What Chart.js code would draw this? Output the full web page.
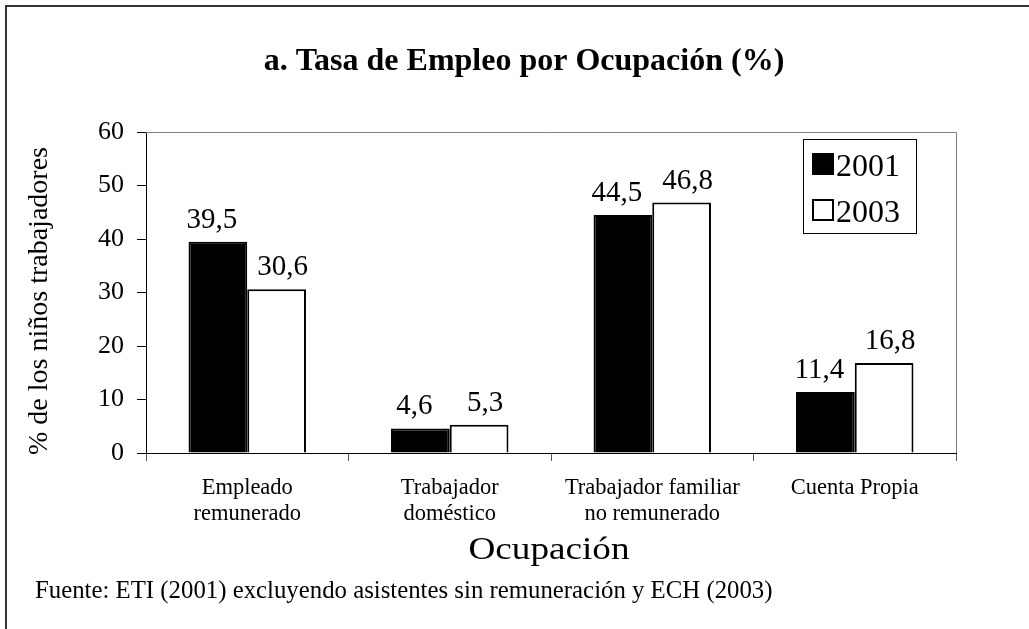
<!DOCTYPE html>
<html>
<head>
<meta charset="utf-8">
<style>
  html, body { margin: 0; padding: 0; background: #fff; }
  canvas { display: block; }
</style>
<script src="https://cdn.jsdelivr.net/npm/chart.js@4/dist/chart.umd.min.js"></script>
</head>
<body>
<canvas id="chart" width="1029" height="629"></canvas>
<script>
const categories = [
  ["Empleado", "remunerado"],
  ["Trabajador", "doméstico"],
  ["Trabajador familiar", "no remunerado"],
  ["Cuenta Propia"],
];
const values2001 = [39.5, 4.6, 44.5, 11.4];
const values2003 = [30.6, 5.3, 46.8, 16.8];
const yTicks = [0, 10, 20, 30, 40, 50, 60];

const SERIF = "'Liberation Serif', 'Times New Roman', serif";

// Outer frame, plot frame, title, axis titles, footnote
const decorations = {
  id: "decorations",
  beforeDraw(chart) {
    const ctx = chart.ctx;
    ctx.save();
    ctx.fillStyle = "#fff";
    ctx.fillRect(0, 0, chart.width, chart.height);
    ctx.restore();
  },
  afterDraw(chart) {
    const ctx = chart.ctx;
    const area = chart.chartArea;
    ctx.save();
    // outer border (only top and left visible in the crop)
    ctx.strokeStyle = "#333";
    ctx.lineWidth = 2;
    ctx.beginPath();
    ctx.moveTo(6, chart.height);
    ctx.lineTo(6, 6);
    ctx.lineTo(chart.width, 6);
    ctx.stroke();

    // plot area top/right border
    ctx.strokeStyle = "#808080";
    ctx.lineWidth = 1;
    ctx.beginPath();
    ctx.moveTo(area.left, area.top + 0.5);
    ctx.lineTo(area.right + 0.5, area.top + 0.5);
    ctx.lineTo(area.right + 0.5, area.bottom);
    ctx.stroke();

    ctx.fillStyle = "#000";
    ctx.textAlign = "center";
    ctx.textBaseline = "middle";
    ctx.font = "bold 32px " + SERIF;
    ctx.fillText("a. Tasa de Empleo por Ocupación (%)", 524, 62);

    // axis title is a bit wide in the source
    ctx.save();
    ctx.translate(549, 551);
    ctx.scale(1.2, 1);
    ctx.font = "31px " + SERIF;
    ctx.fillText("Ocupación", 0, 0);
    ctx.restore();

    ctx.textAlign = "left";
    ctx.font = "24.8px " + SERIF;
    ctx.fillText("Fuente: ETI (2001) excluyendo asistentes sin remuneración y ECH (2003)", 35, 591);

    ctx.translate(40, 301);
    ctx.rotate(-Math.PI / 2);
    ctx.textAlign = "center";
    ctx.font = "28px " + SERIF;
    ctx.fillText("% de los niños trabajadores", 0, 0);
    ctx.restore();
  },
};

// Value labels above the bars
const valueLabels = {
  id: "valueLabels",
  afterDatasetsDraw(chart) {
    const ctx = chart.ctx;
    ctx.save();
    ctx.fillStyle = "#000";
    ctx.font = "29px " + SERIF;
    ctx.textAlign = "center";
    ctx.textBaseline = "alphabetic";
    chart.data.datasets.forEach((ds, i) => {
      // labels sit a little apart from each other, like in the source
      const shift = i === 0 ? -6 : 6;
      chart.getDatasetMeta(i).data.forEach((bar, j) => {
        const txt = ds.data[j].toFixed(1).replace(".", ",");
        ctx.fillText(txt, bar.x + shift, bar.y - 14);
      });
    });
    ctx.restore();
  },
};

// Boxed legend inside the plot, top right
const boxLegend = {
  id: "boxLegend",
  afterDraw(chart) {
    const ctx = chart.ctx;
    const area = chart.chartArea;
    const x = area.right - 153;
    const y = area.top + 7;
    const w = 113;
    const h = 94;
    ctx.save();
    ctx.fillStyle = "#fff";
    ctx.fillRect(x, y, w, h);
    ctx.strokeStyle = "#000";
    ctx.lineWidth = 1;
    ctx.strokeRect(x + 0.5, y + 0.5, w, h);
    ctx.font = "32px " + SERIF;
    ctx.textBaseline = "alphabetic";
    ctx.textAlign = "left";
    chart.data.datasets.forEach((ds, i) => {
      const cy = y + 25 + i * 46;
      ctx.fillStyle = ds.backgroundColor;
      ctx.fillRect(x + 9, cy - 11, 22, 22);
      ctx.strokeStyle = "#000";
      ctx.lineWidth = 2;
      ctx.strokeRect(x + 10, cy - 10, 20, 20);
      ctx.fillStyle = "#000";
      ctx.fillText(ds.label, x + 33, cy + 12);
    });
    ctx.restore();
  },
};

new Chart(document.getElementById("chart"), {
  type: "bar",
  data: {
    labels: categories,
    datasets: [
      {
        label: "2001",
        data: values2001,
        backgroundColor: "#000",
        borderColor: "#000",
        borderWidth: 2,
      },
      {
        label: "2003",
        data: values2003,
        backgroundColor: "#fff",
        borderColor: "#000",
        borderWidth: 2,
      },
    ],
  },
  options: {
    responsive: false,
    animation: false,
    datasets: {
      bar: { categoryPercentage: 0.58, barPercentage: 1.0 },
    },
    layout: { padding: { top: 132, right: 73, left: 0, bottom: 76 } },
    plugins: {
      legend: { display: false },
      title: { display: false },
      tooltip: { enabled: false },
    },
    scales: {
      x: {
        afterFit: (scale) => { scale.height = 100; },
        grid: {
          offset: true,
          drawOnChartArea: false,
          drawTicks: true,
          tickLength: 8,
          color: "#555",
        },
        border: { color: "#000", width: 1 },
        ticks: {
          color: "#000",
          padding: 14,
          maxRotation: 0,
          autoSkip: false,
          font: { family: SERIF, size: 22.5, lineHeight: 1.15 },
        },
      },
      y: {
        min: 0,
        max: 60,
        afterFit: (scale) => { scale.width = 146; },
        afterBuildTicks: (scale) => {
          scale.ticks = yTicks.map((v) => ({ value: v }));
        },
        grid: {
          drawOnChartArea: false,
          drawTicks: true,
          tickLength: 9,
          color: "#000",
        },
        border: { color: "#000", width: 1 },
        ticks: {
          color: "#000",
          padding: 13,
          font: { family: SERIF, size: 26 },
        },
      },
    },
  },
  plugins: [decorations, valueLabels, boxLegend],
});
</script>
</body>
</html>
